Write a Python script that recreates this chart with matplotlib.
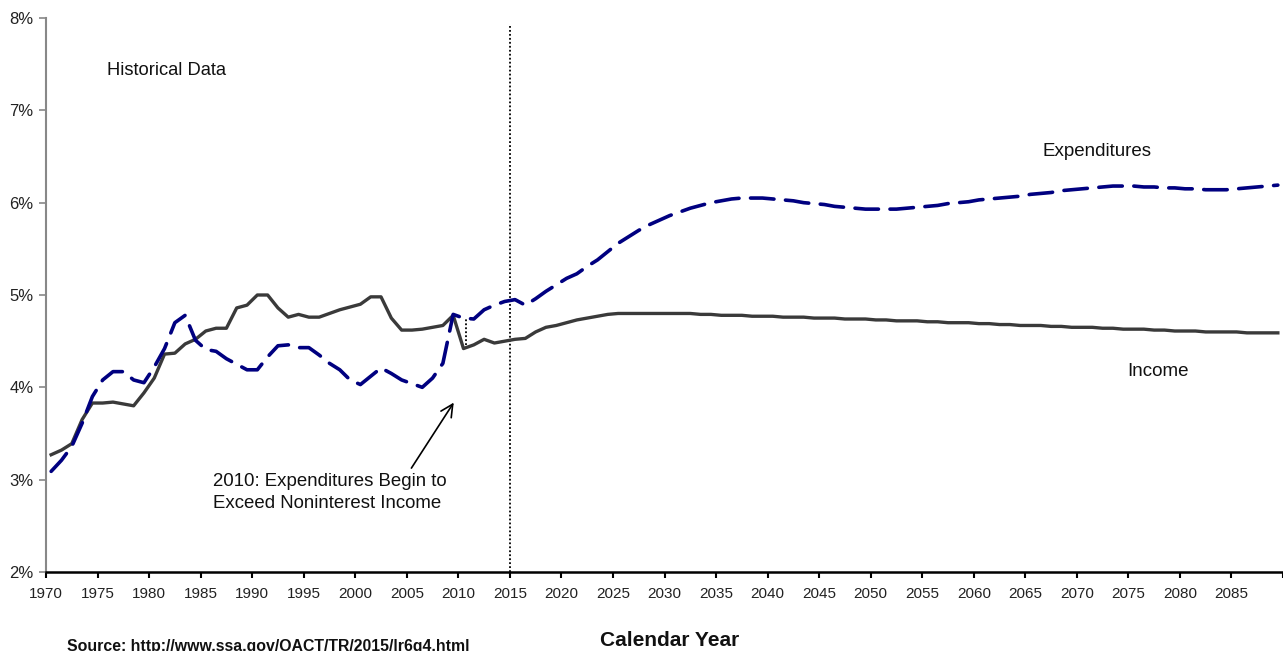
import matplotlib
matplotlib.use("Agg")
import matplotlib.pyplot as plt
import numpy as np

plt.rcParams['font.family'] = ['Liberation Sans', 'DejaVu Sans']

# Historical + projected years
hist_years = list(range(1970, 2024))
income_hist = [3.27, 3.32, 3.39, 3.65, 3.83, 3.83, 3.84, 3.82, 3.80, 3.94,
               4.10, 4.36, 4.37, 4.47, 4.52, 4.61, 4.64, 4.64, 4.86, 4.89,
               5.00, 5.00, 4.86, 4.76, 4.79, 4.76, 4.76, 4.80, 4.84, 4.87,
               4.90, 4.98, 4.98, 4.75, 4.62, 4.62, 4.63, 4.65, 4.67, 4.78,
               4.42, 4.46, 4.52, 4.48, 4.50, 4.52, 4.53, 4.60, 4.65, 4.67,
               4.70, 4.73, 4.75, 4.77]
exp_hist = [3.09, 3.21, 3.36, 3.61, 3.90, 4.08, 4.17, 4.17, 4.08, 4.05,
            4.22, 4.42, 4.70, 4.78, 4.51, 4.41, 4.39, 4.31, 4.25, 4.19,
            4.19, 4.33, 4.45, 4.46, 4.43, 4.43, 4.35, 4.26, 4.19, 4.08,
            4.03, 4.12, 4.21, 4.15, 4.08, 4.04, 4.00, 4.10, 4.26, 4.79,
            4.75, 4.74, 4.84, 4.89, 4.93, 4.95, 4.89, 4.96, 5.04, 5.11,
            5.18, 5.23, 5.31, 5.38]

proj_years = list(range(2024, 2090))
income_proj = [4.79, 4.80, 4.80, 4.80, 4.80, 4.80, 4.80, 4.80, 4.80, 4.79,
               4.79, 4.78, 4.78, 4.78, 4.77, 4.77, 4.77, 4.76, 4.76, 4.76,
               4.75, 4.75, 4.75, 4.74, 4.74, 4.74, 4.73, 4.73, 4.72, 4.72,
               4.72, 4.71, 4.71, 4.70, 4.70, 4.70, 4.69, 4.69, 4.68, 4.68,
               4.67, 4.67, 4.67, 4.66, 4.66, 4.65, 4.65, 4.65, 4.64, 4.64,
               4.63, 4.63, 4.63, 4.62, 4.62, 4.61, 4.61, 4.61, 4.60, 4.60,
               4.60, 4.60, 4.59, 4.59, 4.59, 4.59]
exp_proj = [5.47, 5.56, 5.63, 5.70, 5.76, 5.81, 5.86, 5.90, 5.94, 5.97,
            6.00, 6.02, 6.04, 6.05, 6.05, 6.05, 6.04, 6.03, 6.02, 6.00,
            5.99, 5.98, 5.96, 5.95, 5.94, 5.93, 5.93, 5.93, 5.93, 5.94,
            5.95, 5.96, 5.97, 5.99, 6.00, 6.01, 6.03, 6.04, 6.05, 6.06,
            6.07, 6.09, 6.10, 6.11, 6.13, 6.14, 6.15, 6.16, 6.17, 6.18,
            6.18, 6.18, 6.17, 6.17, 6.16, 6.16, 6.15, 6.15, 6.14, 6.14,
            6.14, 6.15, 6.16, 6.17, 6.18, 6.19]

years = np.array(hist_years + proj_years)
income = np.array(income_hist + income_proj)
expend = np.array(exp_hist + exp_proj)
xpos = years + 0.5  # category centers

y_ticks = [2, 3, 4, 5, 6, 7, 8]
x_ticks = list(range(1970, 2091, 5))
x_labels = [str(y) if y <= 2085 else "" for y in x_ticks]

fig = plt.figure(figsize=(12.83, 6.51), dpi=100)
ax = fig.add_axes([46/1283, 1 - 572/651, 1 - 46/1283, (572 - 18)/651])

ax.plot(xpos, income, color='#3a3a3a', lw=2.4, solid_joinstyle='round', zorder=3)
ax.plot(xpos, expend, color='#000080', lw=2.6, dashes=(6.5, 3.2),
        dash_capstyle='round', zorder=4)

# dotted line from income to expenditure at 2010
i2010 = hist_years.index(2010)
ax.plot([2010.7, 2010.7], [income_hist[i2010], exp_hist[i2010]], color='black',
        lw=1.3, ls=(0, (1, 1.2)), zorder=2)
# vertical projection divider at 2015
ax.plot([2015.05, 2015.05], [2, 7.92], color='black', lw=1.3,
        ls=(0, (1, 1.2)), zorder=2)

ax.set_xlim(1970, 2090)
ax.set_ylim(2, 8)
ax.set_yticks(y_ticks)
ax.set_yticklabels([f"{v}%" for v in y_ticks], fontsize=12, color='#222222')
ax.set_xticks(x_ticks)
ax.set_xticklabels(x_labels, fontsize=11, color='#222222')

for s in ['top', 'right']:
    ax.spines[s].set_visible(False)
ax.spines['left'].set_color('#888888')
ax.spines['left'].set_linewidth(1.5)
ax.spines['bottom'].set_color('black')
ax.spines['bottom'].set_linewidth(1.8)
ax.tick_params(axis='y', direction='out', length=5, width=1.2, color='#888888', pad=4)
ax.tick_params(axis='x', direction='out', length=4, width=1.5, color='black', pad=7)

ax.text(1975.9, 7.43, "Historical Data", fontsize=13.2, color='#111111', va='center')
ax.text(2066.7, 6.55, "Expenditures", fontsize=13.5, color='#111111', va='center')
ax.text(2074.9, 4.17, "Income", fontsize=13.5, color='#111111', va='center')

ax.annotate("", xy=(2009.7, 3.86), xytext=(2005.3, 3.10),
            arrowprops=dict(arrowstyle='->', color='black', lw=1.2,
                            mutation_scale=22))
ax.text(1986.2, 2.865, "2010: Expenditures Begin to\nExceed Noninterest Income",
        fontsize=13.4, color='#111111', va='center', linespacing=1.38)

fig.text(670/1283, 1 - 640/651, "Calendar Year", fontsize=15, fontweight='bold',
         ha='center', va='center', color='#111111')
fig.text(67/1283, 1 - 646/651, "Source: http://www.ssa.gov/OACT/TR/2015/lr6g4.html",
         fontsize=11.4, fontweight='bold', ha='left', va='center', color='#111111')

fig.savefig("out.png", dpi=100)
